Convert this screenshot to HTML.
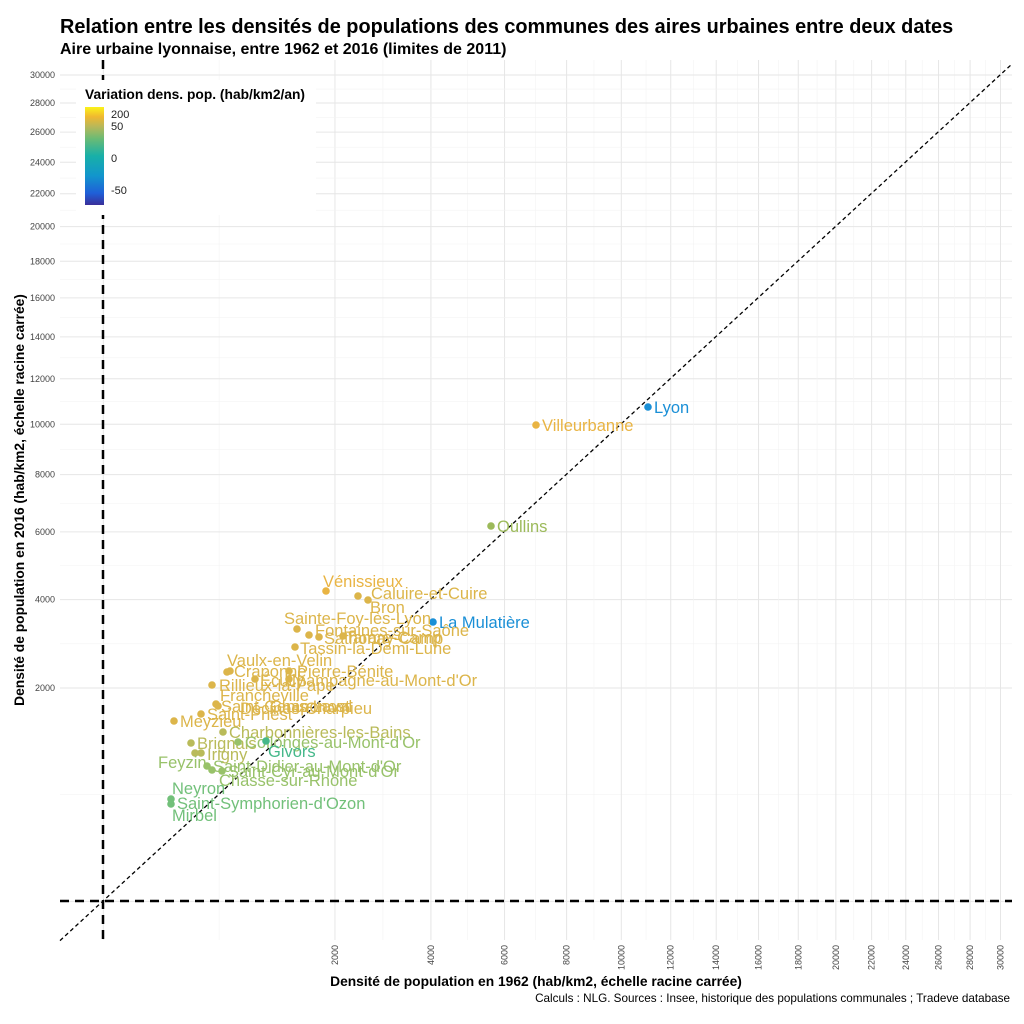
<!DOCTYPE html>
<html><head><meta charset="utf-8"><style>
body{margin:0;background:#fff}
svg{display:block;font-family:"Liberation Sans",sans-serif}
</style></head><body>
<svg id="s" width="1024" height="1024" xmlns="http://www.w3.org/2000/svg">
<defs><linearGradient id="g" x1="0" y1="1" x2="0" y2="0">
<stop offset="0" stop-color="#3a2f9a"/><stop offset="0.12" stop-color="#1f5fd8"/><stop offset="0.3" stop-color="#1296cc"/><stop offset="0.5" stop-color="#18b0a8"/><stop offset="0.68" stop-color="#6cbb74"/><stop offset="0.8" stop-color="#b8b85a"/><stop offset="0.9" stop-color="#f0b830"/><stop offset="1" stop-color="#fbf31a"/></linearGradient></defs>
<g id="grid"></g>
<text x="60" y="33" font-size="19.9" font-weight="bold">Relation entre les densités de populations des communes des aires urbaines entre deux dates</text>
<text x="60" y="54" font-size="16" font-weight="bold">Aire urbaine lyonnaise, entre 1962 et 2016 (limites de 2011)</text>
<line x1="60" y1="940.6" x2="1012" y2="64" stroke="#000" stroke-width="1.3" stroke-dasharray="4,3"/>
<line x1="103" y1="60" x2="103" y2="940" stroke="#000" stroke-width="2.5" stroke-dasharray="9,6"/>
<line x1="60" y1="901" x2="1012" y2="901" stroke="#000" stroke-width="2.5" stroke-dasharray="9,6"/>
<g font-size="16.5">
<g fill="#1a8fd6"><circle cx="648" cy="407" r="3.8"/><text x="654" y="413">Lyon</text><circle cx="433" cy="622" r="3.8"/><text x="439" y="628">La Mulatière</text></g>
<g fill="#e9b443"><circle cx="536" cy="425" r="3.8"/><text x="542" y="431">Villeurbanne</text><circle cx="326" cy="591" r="3.8"/><text x="323" y="587">Vénissieux</text></g>
<g fill="#9cba5a"><circle cx="491" cy="526" r="3.8"/><text x="497" y="532">Oullins</text></g>
<g fill="#dcb54a"><circle cx="358" cy="596" r="3.8"/><circle cx="368" cy="600" r="3.8"/><text x="371" y="599">Caluire-et-Cuire</text><text x="370" y="613">Bron</text>
<circle cx="297" cy="629" r="3.8"/><text x="284" y="624">Sainte-Foy-lès-Lyon</text>
<circle cx="309" cy="635" r="3.8"/><circle cx="319" cy="637" r="3.8"/><circle cx="343" cy="636" r="3.8"/><text x="315" y="636">Fontaines-sur-Saône</text><text x="324" y="644">Sathonay-Camp</text><text x="345" y="643">Tarare-Camp</text>
<circle cx="295" cy="647" r="3.8"/><text x="300" y="654">Tassin-la-Demi-Lune</text>
<circle cx="227" cy="672" r="3.8"/><circle cx="230" cy="671" r="3.8"/><text x="227" y="666">Vaulx-en-Velin</text><text x="234" y="677">Craponne</text>
<circle cx="289" cy="671" r="3.8"/><text x="297" y="677">Pierre-Bénite</text>
<circle cx="255" cy="679" r="3.8"/><circle cx="289" cy="679" r="3.8"/><text x="260" y="686">Écully</text><text x="285" y="686">Champagne-au-Mont-d'Or</text>
<circle cx="212" cy="685" r="3.8"/><text x="219" y="691">Rillieux-la-Pape</text><text x="220" y="701">Francheville</text>
<circle cx="216" cy="704" r="3.8"/><circle cx="218" cy="706" r="3.8"/><text x="221" y="712">Saint-Genis-Laval</text><text x="240" y="714">Décines-Charpieu</text><text x="270" y="712">Chaponost</text>
<circle cx="201" cy="714" r="3.8"/><text x="207" y="720">Saint-Priest</text>
<circle cx="174" cy="721" r="3.8"/><text x="180" y="727">Meyzieu</text></g>
<g fill="#b9bb5a"><circle cx="223" cy="732" r="3.8"/><text x="229" y="738">Charbonnières-les-Bains</text>
<circle cx="191" cy="743" r="3.8"/><text x="197" y="749">Brignais</text>
<circle cx="195" cy="753" r="3.8"/><circle cx="201" cy="753" r="3.8"/><text x="207" y="760">Irigny</text></g>
<g fill="#98c26a"><circle cx="238" cy="742" r="3.8"/><text x="245" y="748">Collonges-au-Mont-d'Or</text>
<text x="158" y="768">Feyzin</text><circle cx="207" cy="766" r="3.8"/><circle cx="212" cy="770" r="3.8"/><text x="213" y="772">Saint-Didier-au-Mont-d'Or</text>
<circle cx="222" cy="771" r="3.8"/><text x="228" y="777">Saint-Cyr-au-Mont-d'Or</text><text x="219" y="786">Chasse-sur-Rhône</text></g>
<g fill="#45b88a"><circle cx="266" cy="741" r="3.8"/><text x="268" y="757">Givors</text></g>
<g fill="#72c07a"><text x="172" y="794">Neyron</text><circle cx="171" cy="799" r="3.8"/><circle cx="171" cy="804" r="3.8"/><text x="177" y="809">Saint-Symphorien-d'Ozon</text><text x="172" y="821">Mirbel</text></g>
</g>
<rect x="76" y="80" width="240" height="135" fill="#fff"/>
<text x="85" y="99" font-size="13.8" font-weight="bold">Variation dens. pop. (hab/km2/an)</text>
<rect x="85" y="107" width="19" height="98" fill="url(#g)"/>
<g font-size="11" fill="#222"><text x="111" y="118">200</text><text x="111" y="130">50</text><text x="111" y="162">0</text><text x="111" y="194">-50</text></g>
<text transform="translate(24,500) rotate(-90)" text-anchor="middle" font-size="13.8" font-weight="bold">Densité de population en 2016 (hab/km2, échelle racine carrée)</text>
<text x="536" y="986" text-anchor="middle" font-size="13.8" font-weight="bold">Densité de population en 1962 (hab/km2, échelle racine carrée)</text>
<text x="1010" y="1002" text-anchor="end" font-size="11.7">Calculs : NLG. Sources : Insee, historique des populations communales ; Tradeve database</text>
</svg>
<script>
var NS="http://www.w3.org/2000/svg",g=document.getElementById("grid"),s=document.getElementById("s");
function Y(v){return 901.4-4.771*Math.sqrt(v)}function X(v){return 103.3+5.18*Math.sqrt(v)}
function el(t,a,p){var e=document.createElementNS(NS,t);for(var k in a)e.setAttribute(k,a[k]);(p||g).appendChild(e);return e}
for(var v=0;v<=30000;v+=2000){
 var m=Math.pow((Math.sqrt(v)+Math.sqrt(v+2000))/2,2);
 if(v<30000){el("line",{x1:60,x2:1012,y1:Y(m),y2:Y(m),stroke:"#f3f3f3","stroke-width":0.6});el("line",{y1:60,y2:940,x1:X(m),x2:X(m),stroke:"#f3f3f3","stroke-width":0.6});}
 el("line",{x1:60,x2:1012,y1:Y(v),y2:Y(v),stroke:"#e6e6e6","stroke-width":1});
 el("line",{y1:60,y2:940,x1:X(v),x2:X(v),stroke:"#e6e6e6","stroke-width":1});
 if(v>0){var t=el("text",{x:55,y:Y(v)+3,"text-anchor":"end","font-size":9,fill:"#444"},s);t.textContent=v;
 var t2=el("text",{transform:"translate("+(X(v)+3)+",945) rotate(-90)","text-anchor":"end","font-size":9,fill:"#444"},s);t2.textContent=v;}
}
</script>
</body></html>
